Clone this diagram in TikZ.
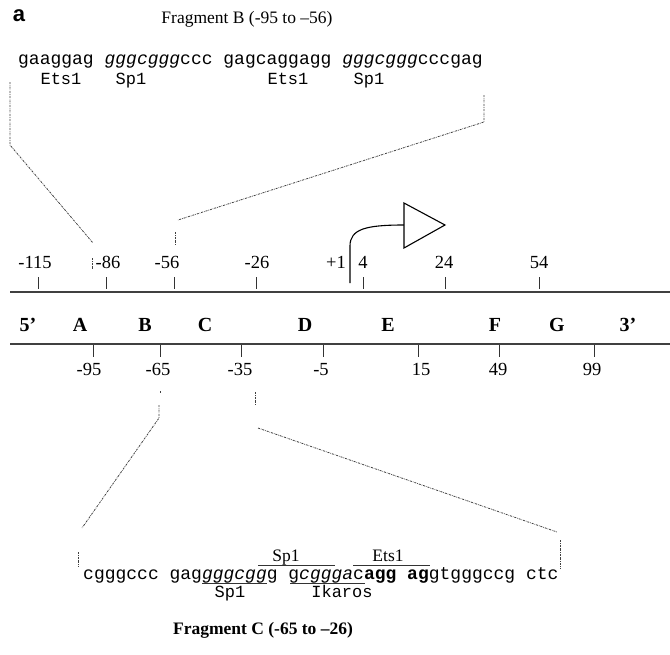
\documentclass[tikz,border=0pt]{standalone}
\usepackage{fontspec}
\setmainfont{Liberation Serif}
\setmonofont{Liberation Mono}
\newfontfamily\panelfont{Liberation Sans}
\usetikzlibrary{calc}

\begin{document}
\begin{tikzpicture}[
    x=1pt, y=-1pt,
    seqText/.style={inner sep=0pt, anchor=base west, font=\fontsize{18}{20}\selectfont\ttfamily},
    siteText/.style={inner sep=0pt, anchor=base, font=\fontsize{17}{19}\selectfont\ttfamily},
    posText/.style={inner sep=0pt, anchor=base, font=\fontsize{18.5}{20}\selectfont},
    regionText/.style={inner sep=0pt, anchor=base, font=\fontsize{20}{22}\selectfont\bfseries},
    titleText/.style={inner sep=0pt, anchor=base, font=\fontsize{17.5}{19}\selectfont},
    axisLine/.style={line width=1.2pt, draw=black!75},
    tickLine/.style={line width=1pt, draw=black!80},
    zoomLine/.style={line width=0.8pt, draw=black!75, dash pattern=on 2pt off 1pt on 0.6pt off 1pt},
    siteLine/.style={line width=0.8pt, draw=black!80}
  ]
    \useasboundingbox (0,0) rectangle (670,654);

    % Panel letter and fragment B
    \node[inner sep=0pt, anchor=base, font=\fontsize{22}{24}\selectfont\panelfont\bfseries] (panel) at (19,21) {a};
    \node[titleText] (fragB) at (247,23) {Fragment B (-95 to –56)};
    \node[seqText] (seqB) at (18,64) {gaaggag \textit{gggcggg}ccc gagcaggagg \textit{gggcggg}cccgag};
    \node[siteText] (etsB1) at (61,84) {Ets1};
    \node[siteText] (spB1) at (131,84) {Sp1};
    \node[siteText] (etsB2) at (288,84) {Ets1};
    \node[siteText] (spB2) at (369,84) {Sp1};

    % Map axes
    \draw[axisLine] (10,292) -- (670,292);
    \draw[axisLine] (10,344) -- (670,344);
    \foreach \tx/\lx/\lab in {38/35/-115, 106/108/-86, 174/167/-56, 256/257/-26, 363/363/4, 445/444/24, 539/539/54}
      {\draw[tickLine] (\tx,277) -- (\tx,289);
       \node[posText] at (\lx,268) {\lab};}
    \node[posText] (tss) at (336,268) {+1};
    \foreach \tx/\lx/\lab in {93/89/-95, 160/158/-65, 241/240/-35, 323/321/-5, 418/421/15, 499/498/49, 594/592/99}
      {\draw[tickLine] (\tx,345) -- (\tx,357);
       \node[posText] at (\lx,375) {\lab};}
    \foreach \rx/\lab in {28/5’, 80/A, 145/B, 205/C, 305/D, 388/E, 495/F, 557/G, 628/3’}
      \node[regionText] at (\rx,331) {\lab};

    % Transcription start arrow
    \coordinate (tssBase) at (350,283);
    \coordinate (tssBend) at (350,246);
    \coordinate (tssHead) at (404,225);
    \draw[line width=1.1pt] (tssBase) -- (tssBend) .. controls (350,229) and (366,225) .. (tssHead);
    \draw[line width=1.1pt, fill=white] (404,203) -- (445,225) -- (404,248) -- cycle;

    % Fragment B zoom lines
    \draw[zoomLine] (10,82) -- (10,145) -- (93,243);
    \draw[zoomLine] (92,258) -- (92,270);
    \draw[zoomLine] (484,95) -- (484,122) -- (178,220);
    \draw[zoomLine] (175,232) -- (175,245);

    % Fragment C zoom lines
    \draw[zoomLine] (160,391) -- (160,393);
    \draw[zoomLine] (159,405) -- (159,418) -- (82,528);
    \draw[zoomLine] (78,552) -- (78,567);
    \draw[zoomLine] (255,392) -- (255,405);
    \draw[zoomLine] (258,428) -- (557,532);
    \draw[zoomLine] (560,540) -- (560,568);

    % Fragment C
    \node[seqText] (seqC) at (83,579) {cgggccc gag\textit{gggcgg}g g\textit{cggga}c\textbf{agg ag}gtgggccg ctc};
    \draw[siteLine] (202,583) -- (267,583);
    \draw[siteLine] (290,583) -- (365,583);
    \draw[siteLine] (258,565) -- (335,565);
    \draw[siteLine] (353,565) -- (430,565);
    \node[titleText] (spC1) at (286,561) {Sp1};
    \node[titleText] (etsC) at (388,561) {Ets1};
    \node[siteText] (spC2) at (230,597) {Sp1};
    \node[siteText] (ikC) at (342,597) {Ikaros};
    \node[titleText, font=\fontsize{17.5}{19}\selectfont\bfseries] (fragC) at (263,634) {Fragment C (-65 to –26)};
  \end{tikzpicture}
\end{document}
